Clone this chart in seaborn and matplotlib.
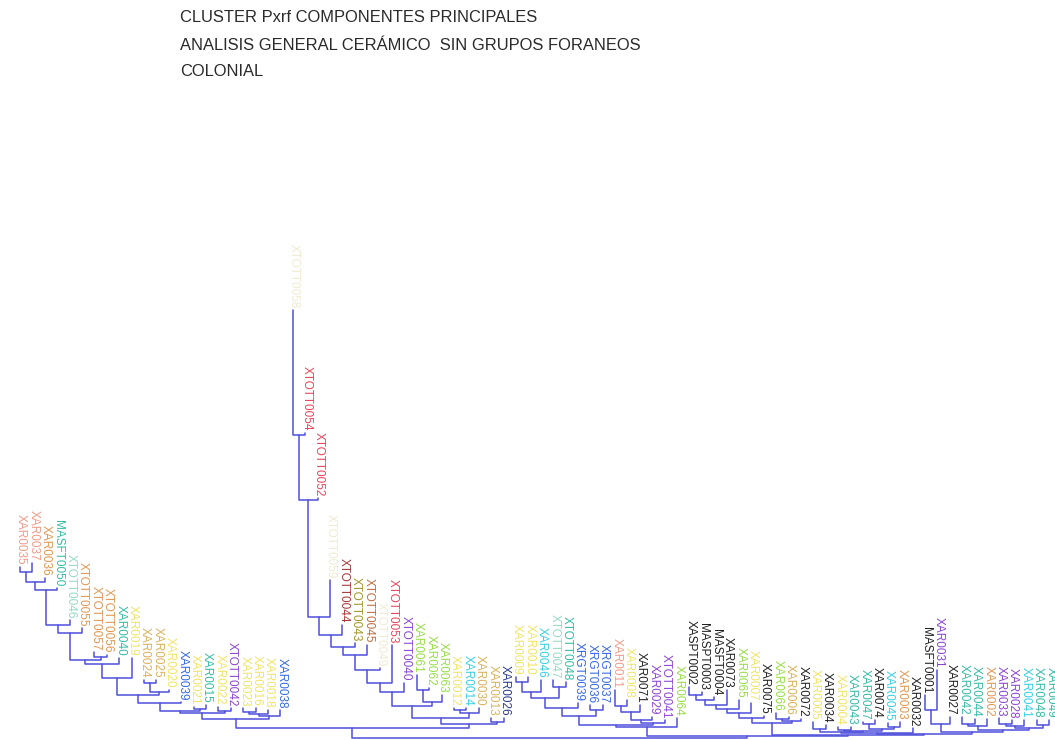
import matplotlib
matplotlib.use('Agg')
import matplotlib.pyplot as plt
import seaborn as sns
import pandas as pd

# ============================== DATA ==============================

TITLE_LINES = [
    'CLUSTER Pxrf COMPONENTES PRINCIPALES',
    'ANALISIS GENERAL CERÁMICO  SIN GRUPOS FORANEOS',
    'COLONIAL',
]

SALMON = '#f39a88'
ORANGE = '#e39550'
TEAL = '#34bca6'
YELLOW = '#f1e466'
TAN = '#ddb05a'
BLUE = '#3468e6'
NAVY = '#2a3a8a'
CYAN = '#36cfe6'
PURPLE = '#8c44d4'
RED = '#e6445a'
DARKRED = '#a83636'
OLIVE = '#a39528'
GREEN = '#96de46'
BLACK = '#202020'
CREAM = '#f1ead2'
PALETEAL = '#96d9c6'
BROWN = '#bd6d3e'
LINE_COLOR = '#5050dc'

# leaves, left to right
LEAF_LABELS = [
    'XAR0035', 'XAR0037', 'XAR0036', 'MASFT0050', 'XTOTT0046', 'XTOTT0055', 'XTOTT0057',
    'XTOTT0056', 'XAR0040', 'XAR0019', 'XAR0024', 'XAR0025', 'XAR0020', 'XAR0039',
    'XAR0021', 'XAR0015', 'XAR0022', 'XTOTT0042', 'XAR0023', 'XAR0016', 'XAR0018',
    'XAR0038',
    'XTOTT0058', 'XTOTT0054', 'XTOTT0052', 'XTOTT0059', 'XTOTT0044', 'XTOTT0043',
    'XTOTT0045', 'XTOTT0049', 'XTOTT0053', 'XTOTT0040', 'XAR0061', 'XAR0062', 'XAR0063',
    'XAR0012', 'XAR0014', 'XAR0030', 'XAR0013', 'XAR0026',
    'XAR0009', 'XAR0010', 'XAR0046', 'XTOTT0047', 'XTOTT0048', 'XRGT0039', 'XRGT0036',
    'XRGT0037', 'XAR0011', 'XAR0008', 'XAR0071', 'XAR0029', 'XTOTT0041', 'XAR0064',
    'XASPT0002', 'MASPT0003', 'MASFT0004', 'XAR0073', 'XAR0065', 'XAR0007', 'XAR0075',
    'XAR0066', 'XAR0006', 'XAR0072',
    'XAR0005', 'XAR0034', 'XAR0004', 'XAR0043', 'XAR0047', 'XAR0074', 'XAR0045',
    'XAR0003', 'XAR0032',
    'MASFT0001', 'XAR0031', 'XAR0027', 'XAR0042', 'XAR0044', 'XAR0002', 'XAR0033',
    'XAR0028', 'XAR0041', 'XAR0048', 'XAR0049',
]

LEAF_COLORS = [
    SALMON, SALMON, ORANGE, TEAL, PALETEAL, ORANGE, ORANGE, ORANGE, TEAL, YELLOW, TAN,
    TAN, YELLOW, BLUE, YELLOW, TEAL, YELLOW, PURPLE, YELLOW, YELLOW, YELLOW, BLUE,
    CREAM, RED, RED, CREAM, DARKRED, OLIVE, BROWN, CREAM, RED, PURPLE, GREEN, GREEN,
    GREEN, YELLOW, CYAN, TAN, TAN, NAVY,
    YELLOW, YELLOW, CYAN, PALETEAL, TEAL, BLUE, BLUE, BLUE, SALMON, YELLOW, BLACK,
    PURPLE, PURPLE, GREEN,
    BLACK, BLACK, BLACK, BLACK, GREEN, YELLOW, BLACK, GREEN, TAN, BLACK,
    YELLOW, BLACK, YELLOW, TEAL, TEAL, BLACK, CYAN, ORANGE, BLACK,
    BLACK, PURPLE, BLACK, TEAL, TEAL, ORANGE, PURPLE, PURPLE, CYAN, TEAL, TEAL,
]

# distance from root of every leaf tip
LEAF_TIPS = [
    1.71, 1.75, 1.60, 1.50, 1.18, 1.10, 0.86, 0.83, 0.80, 0.80, 0.58, 0.58, 0.48, 0.36,
    0.31, 0.33, 0.31, 0.30, 0.30, 0.30, 0.28, 0.28,
    4.28, 3.05, 2.40, 1.58, 1.13, 0.95, 0.93, 0.70, 0.93, 0.55, 0.63, 0.50, 0.43,
    0.30, 0.30, 0.30, 0.20, 0.20,
    0.61, 0.61, 0.58, 0.58, 0.56, 0.35, 0.33, 0.33, 0.48, 0.38, 0.33, 0.21, 0.18, 0.20,
    0.51, 0.46, 0.41, 0.48, 0.38, 0.35, 0.22, 0.25, 0.21, 0.19,
    0.16, 0.13, 0.11, 0.11, 0.16, 0.18, 0.15, 0.16, 0.10,
    0.43, 0.68, 0.21, 0.21, 0.19, 0.19, 0.20, 0.18, 0.18, 0.18, 0.18,
]

# internal nodes: (first leaf, last leaf, distance from root)
CLUSTER_A = [
    (0, 1, 1.66), (0, 2, 1.56), (0, 3, 1.48), (0, 4, 1.13), (0, 5, 1.05), (6, 7, 0.81),
    (0, 7, 0.78), (0, 8, 0.74), (0, 9, 0.60), (10, 11, 0.55), (10, 12, 0.46),
    (0, 12, 0.43), (0, 13, 0.35), (14, 15, 0.29), (0, 15, 0.27), (16, 17, 0.27),
    (0, 17, 0.25), (18, 19, 0.26), (18, 20, 0.24), (18, 21, 0.22), (0, 21, 0.19),
]
CLUSTER_B = [
    (22, 23, 3.03), (22, 24, 2.38), (22, 25, 1.21), (22, 26, 1.03), (22, 27, 0.91),
    (22, 28, 0.83), (22, 29, 0.68), (22, 30, 0.55), (22, 31, 0.46), (32, 33, 0.48),
    (32, 34, 0.36), (22, 34, 0.32), (35, 36, 0.28), (35, 37, 0.25), (22, 37, 0.20),
    (38, 39, 0.16), (22, 39, 0.14),
]
CLUSTER_C = [
    (40, 41, 0.56), (40, 42, 0.46), (43, 44, 0.51), (40, 44, 0.40), (40, 45, 0.30),
    (46, 47, 0.28), (40, 47, 0.22), (48, 49, 0.32), (48, 50, 0.26), (48, 51, 0.18),
    (48, 52, 0.15), (40, 52, 0.13), (40, 53, 0.11),
]
CLUSTER_D = [
    (54, 55, 0.43), (54, 56, 0.38), (54, 57, 0.33), (54, 58, 0.29), (54, 59, 0.25),
    (54, 60, 0.20), (61, 62, 0.19), (61, 63, 0.17), (54, 63, 0.15),
]
CLUSTER_E = [
    (64, 65, 0.09), (66, 67, 0.08), (68, 69, 0.14), (70, 71, 0.11), (68, 71, 0.09),
    (66, 71, 0.07), (64, 71, 0.06), (64, 72, 0.05),
]
CLUSTER_F = [
    (73, 74, 0.28), (73, 75, 0.14), (76, 77, 0.14), (76, 78, 0.12), (79, 80, 0.14),
    (79, 81, 0.12), (82, 83, 0.13), (79, 83, 0.10), (76, 83, 0.08), (73, 83, 0.06),
]
TOP_NODES = [
    (0, 39, 0.10), (64, 83, 0.04), (54, 83, 0.03), (40, 83, 0.02), (0, 83, 0.00),
]


# ============================== TREE LAYOUT ==============================

def build_segments(spans, tips):
    heights = {(a, b): h for a, b, h in spans}
    for i, h in enumerate(tips):
        heights[(i, i)] = h
    children = {}
    for a, b, _ in spans:
        kids, i = [], a
        while i <= b:
            best = None
            for s, e in heights:
                if s == i and e <= b and (s, e) != (a, b):
                    if best is None or e > best[1]:
                        best = (s, e)
            kids.append(best)
            i = best[1] + 1
        children[(a, b)] = kids

    xpos = {}

    def get_x(node):
        if node not in xpos:
            if node[0] == node[1]:
                xpos[node] = float(node[0])
            else:
                kids = children[node]
                xpos[node] = (get_x(kids[0]) + get_x(kids[-1])) / 2
        return xpos[node]

    rows = []
    for seg, (a, b, h) in enumerate(spans):
        kids = children[(a, b)]
        first, last = kids[0], kids[-1]
        pts = [(get_x(first), heights[first]), (get_x(first), h),
               (get_x(last), h), (get_x(last), heights[last])]
        for order, (x, y) in enumerate(pts):
            rows.append({'seg': seg, 'order': order, 'x': x, 'h': y})
        for k, mid in enumerate(kids[1:-1]):
            for order, y in enumerate([heights[mid], h]):
                rows.append({'seg': f'{seg}_{k}', 'order': order, 'x': get_x(mid), 'h': y})
    return pd.DataFrame(rows)


# ============================== PLOT ==============================

sns.set_theme(style='white')
plt.rcParams['font.family'] = ['Liberation Sans', 'DejaVu Sans']

all_nodes = CLUSTER_A + CLUSTER_B + CLUSTER_C + CLUSTER_D + CLUSTER_E + CLUSTER_F + TOP_NODES
segments = build_segments(all_nodes, LEAF_TIPS)

fig = plt.figure(figsize=(10.55, 7.4), dpi=100)
ax = fig.add_axes([0, 0, 1, 1])
sns.lineplot(data=segments, x='x', y='h', units='seg', estimator=None, sort=False,
             color=LINE_COLOR, linewidth=1.1, ax=ax)

for i, (label, color) in enumerate(zip(LEAF_LABELS, LEAF_COLORS)):
    ax.text(i + 0.1, LEAF_TIPS[i] + 0.02, label, rotation=270, ha='center', va='bottom',
            fontsize=8.5, color=color, family=['Liberation Sans Narrow', 'Liberation Sans'])

ax.set_xlim(-1.61, 83.48)
ax.set_ylim(-0.02, 7.38)
ax.axis('off')

for k, line in enumerate(TITLE_LINES):
    fig.text(180 / 1055, 1 - (18 + 27 * k) / 740, line, ha='left', va='center',
             fontsize=11.9, color='#2a2a2a', family=['Liberation Sans Narrow', 'Liberation Sans'])

fig.savefig('out.png', dpi=100)
